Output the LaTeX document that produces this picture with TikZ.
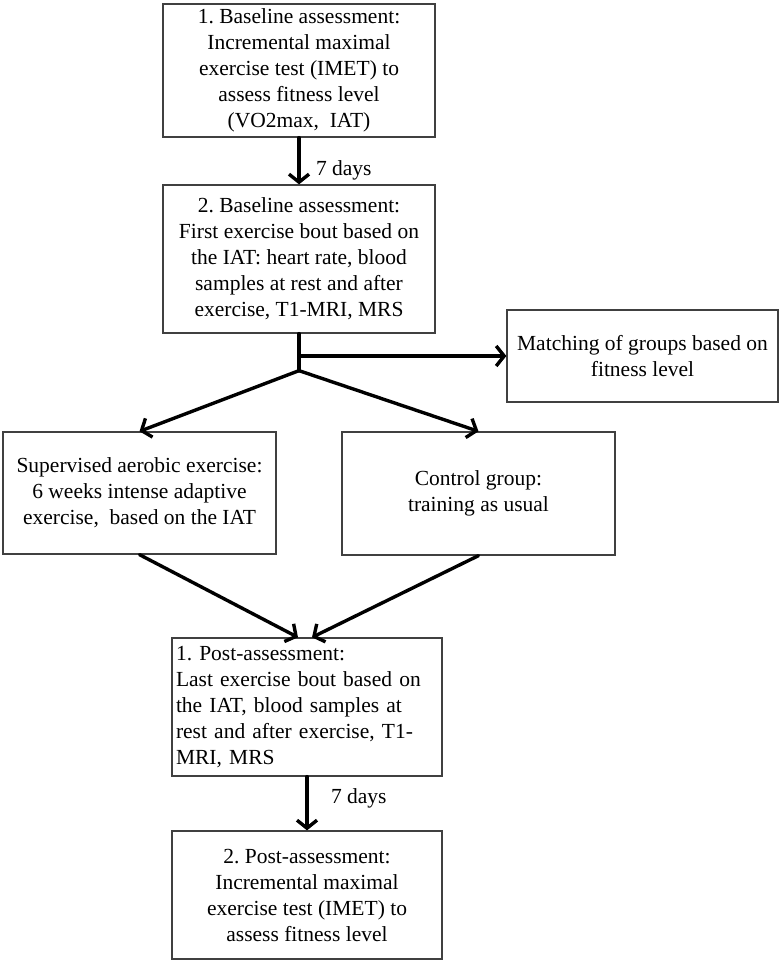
\documentclass[tikz,border=0pt]{standalone}
\usepackage{fontspec}
\setmainfont{Liberation Serif}
\usetikzlibrary{arrows.meta, positioning}
\frenchspacing

\begin{document}
\begin{tikzpicture}[
            x = 1pt, y = -1pt,
            > = {Straight Barb[length=8pt, width=20pt]},
            font = \fontsize{21.5}{26}\selectfont
        ]

        \tikzstyle{stage}=[
            draw = black!75,
            line width = 1.3pt,
            fill = white,
            align = center,
            inner sep = 2pt,
            minimum width = 272pt
        ]
        \tikzstyle{flow}=[line width = 3.4pt, line cap = round]

        \useasboundingbox (0,0) rectangle (783,965);

        \node[stage, minimum height=133pt] (base1) at (299,70.5) {1. Baseline assessment:\\ Incremental maximal\\ exercise test (IMET) to\\ assess fitness level\\ (VO2max,\ \ IAT)};
        \node[stage, minimum height=148pt] (base2) at (299,259) {2. Baseline assessment:\\ First exercise bout based on\\ the IAT: heart rate, blood\\ samples at rest and after\\ exercise,\ T1-MRI,\ MRS};
        \coordinate[below=37pt of base2.south] (fork);
        \node[stage, minimum width=271pt, minimum height=92pt] (match) at (642.5,356) {Matching of groups based on\\ fitness level};
        \node[stage, minimum width=273pt, minimum height=122pt] (sup) at (139.5,493) {Supervised aerobic exercise:\\ 6 weeks intense adaptive\\ exercise,\ \ based on the IAT};
        \node[stage, minimum width=273pt, minimum height=123pt] (ctrl) at (478.5,493.5) {Control group:\\ training as usual};
        \node[stage, minimum width=270pt, minimum height=138pt, align=left, text width=262pt] (post1) at (307,707) {1. Post-assessment:\\ Last exercise bout based on\\ the IAT, blood samples at\\ rest and after exercise, T1-\\ MRI, MRS};
        \node[stage, minimum width=270pt, minimum height=128pt] (post2) at (307,895) {2. Post-assessment:\\ Incremental maximal\\ exercise test (IMET) to\\ assess fitness level};

        % baseline
        \draw[flow, ->] (base1) -- node[pos=0.69, right=12pt] {7 days} (base2);
        \draw[flow] (base2) -- (fork);
        \draw[flow, ->] (fork |- match) -- (match);

        % groups
        \draw[flow, ->] (fork) -- (sup.north);
        \draw[flow, ->] (fork) -- (ctrl.north);
        \draw[flow, ->] (sup.south) -- ([xshift=-9pt]post1.north);
        \draw[flow, ->] (ctrl.south) -- ([xshift=5pt]post1.north);

        % post
        \draw[flow, ->] (post1) -- node[pos=0.4, right=19pt] {7 days} (post2);

    \end{tikzpicture}
\end{document}
